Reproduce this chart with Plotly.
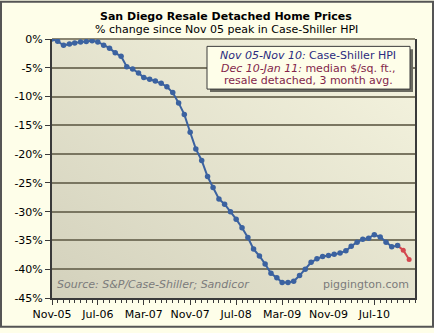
import base64
import pandas as pd
import plotly.graph_objects as go

# ---- data ----
months = pd.date_range("2005-11-01", "2011-01-01", freq="MS")  # Nov-05 .. Jan-11
hpi_pct = [0.0, -0.4, -1.1, -0.85, -0.7, -0.5, -0.45, -0.3, -0.5, -1.1,
           -1.6, -2.4, -3.0, -4.8, -5.2, -5.9, -6.7, -7.0, -7.3, -7.7,
           -8.3, -9.3, -11.1, -13.1, -16.2, -19.1, -21.1, -23.9, -25.8, -27.8,
           -28.7, -30.0, -31.3, -32.8, -34.5, -36.5, -37.7, -39.1, -40.7, -41.5,
           -42.3, -42.3, -42.1, -41.1, -40.0, -38.8, -38.2, -37.8, -37.6, -37.4,
           -37.2, -36.8, -36.0, -35.3, -34.8, -34.6, -34.0, -34.4, -35.3, -36.1,
           -35.9]
sqft_pct = [-35.9, -36.7, -38.3]          # Nov-10 (join), Dec-10, Jan-11
y_ticks = [0, -5, -10, -15, -20, -25, -30, -35, -40, -45]
y_ticklabels = ["0%", "-5%", "-10%", "-15%", "-20%", "-25%", "-30%", "-35%", "-40%", "-45%"]
x_ticks = ["2005-11-01", "2006-07-01", "2007-03-01", "2007-11-01", "2008-07-01",
           "2009-03-01", "2009-11-01", "2010-07-01"]
x_ticklabels = ["Nov-05", "Jul-06", "Mar-07", "Nov-07", "Jul-08", "Mar-09", "Nov-09", "Jul-10"]

hpi_x = months[:len(hpi_pct)]
sqft_x = months[len(hpi_pct) - 1:]

# ---- geometry (pixels) ----
W, H = 434, 333
L, R, T, B = 52, 415, 39, 302.7
pw, ph = R - L, B - T


def px(x):
    return (x - L) / pw


def py(y):
    return (B - y) / ph


FONT = "DejaVu Sans"
BLUE = "#3b62a0"
RED = "#d3474e"

fig = go.Figure()
fig.add_trace(go.Scatter(x=sqft_x, y=sqft_pct, mode="lines+markers",
                         line=dict(color=RED, width=2),
                         marker=dict(color=RED, size=5), showlegend=False))
fig.add_trace(go.Scatter(x=hpi_x, y=hpi_pct, mode="lines+markers",
                         line=dict(color=BLUE, width=2),
                         marker=dict(color=BLUE, size=5.5), showlegend=False))

svg = ('<svg xmlns="http://www.w3.org/2000/svg" width="100" height="100" '
       'preserveAspectRatio="none"><defs><linearGradient id="g" x1="0" y1="1" x2="1" y2="0">'
       '<stop offset="0" stop-color="#d3d1bc"/><stop offset="1" stop-color="#f6f5e0"/>'
       '</linearGradient></defs><rect width="100" height="100" fill="url(#g)"/></svg>')
src = "data:image/svg+xml;base64," + base64.b64encode(svg.encode()).decode()

GRID = "#7a7661"
AX = "#3a3a3a"

fig.update_layout(
    width=W, height=H,
    margin=dict(l=L, r=W - R, t=T, b=H - B, pad=0),
    paper_bgcolor="#fefee9",
    plot_bgcolor="#e6e5d0",
    font=dict(family=FONT, size=11, color="#000000"),
    images=[dict(source=src, xref="paper", yref="paper", x=0, y=1, sizex=1, sizey=1,
                 sizing="stretch", layer="below", xanchor="left", yanchor="top")],
    xaxis=dict(type="date", range=["2005-11-01", "2011-02-01"],
               tickvals=x_ticks, ticktext=x_ticklabels,
               ticks="outside", ticklen=5, tickwidth=1, tickcolor=AX,
               minor=dict(dtick="M1", tick0="2005-11-01", ticks="outside", ticklen=3,
                          tickcolor=AX, tickwidth=1, showgrid=False),
               showgrid=False, showline=True, linecolor=AX, linewidth=2,
               tickfont=dict(size=11, family=FONT), zeroline=False),
    yaxis=dict(range=[-45, 0], tickvals=y_ticks, ticktext=y_ticklabels,
               ticks="outside", ticklen=5, tickwidth=1, tickcolor=AX,
               showgrid=True, gridcolor=GRID, gridwidth=1.5,
               zeroline=True, zerolinecolor="#8a8672", zerolinewidth=1.5,
               showline=True, linecolor=AX, linewidth=2, mirror=True,
               tickfont=dict(size=11, family=FONT)),
)

shapes = []
# legend box shadow + box
bx0, bx1, by0, by1 = 207, 410, 46.5, 90
shapes.append(dict(type="rect", xref="paper", yref="paper",
                   x0=px(bx0 + 3), x1=px(bx1 + 3), y0=py(by1 + 3), y1=py(by0 + 3),
                   fillcolor="#6a6a60", line=dict(width=0)))
shapes.append(dict(type="rect", xref="paper", yref="paper",
                   x0=px(bx0), x1=px(bx1), y0=py(by1), y1=py(by0),
                   fillcolor="#fefee9", line=dict(color="#3a3a3a", width=1)))
# outer border
shapes.append(dict(type="rect", xref="paper", yref="paper",
                   x0=px(1), x1=px(W - 1), y0=py(H - 1), y1=py(1),
                   line=dict(color="#555555", width=2), fillcolor="rgba(0,0,0,0)"))
fig.update_layout(shapes=shapes)

NAVY = "#2c2c80"
MAROON = "#83264a"
GRAY = "#7b7b7b"
ann = [
    dict(text="<b>San Diego Resale Detached Home Prices</b>", x=px(226), y=py(16),
         font=dict(size=11, color="#000")),
    dict(text="% change since Nov 05 peak in Case-Shiller HPI", x=px(226), y=py(29.5),
         font=dict(size=11, color="#000")),
    dict(text="<i>Nov 05-Nov 10:</i> Case-Shiller HPI", x=px(308.3), y=py(56),
         font=dict(size=11, color=NAVY)),
    dict(text="<i>Dec 10-Jan 11:</i> median $/sq. ft.,", x=px(308.3), y=py(69.5),
         font=dict(size=11, color=MAROON)),
    dict(text="resale detached, 3 month avg.", x=px(308.3), y=py(81),
         font=dict(size=11, color=MAROON)),
    dict(text="<i>Source: S&amp;P/Case-Shiller; Sandicor</i>", x=px(55), y=py(289),
         xanchor="left", font=dict(size=11, color=GRAY)),
    dict(text="piggington.com", x=px(410.7), y=py(289), xanchor="right",
         font=dict(size=11, color=GRAY)),
]
for a in ann:
    a.setdefault("xanchor", "center")
    fig.add_annotation(xref="paper", yref="paper", yanchor="middle", showarrow=False,
                       font_family=FONT, **{k: v for k, v in a.items()})

fig.write_html("out.html")
